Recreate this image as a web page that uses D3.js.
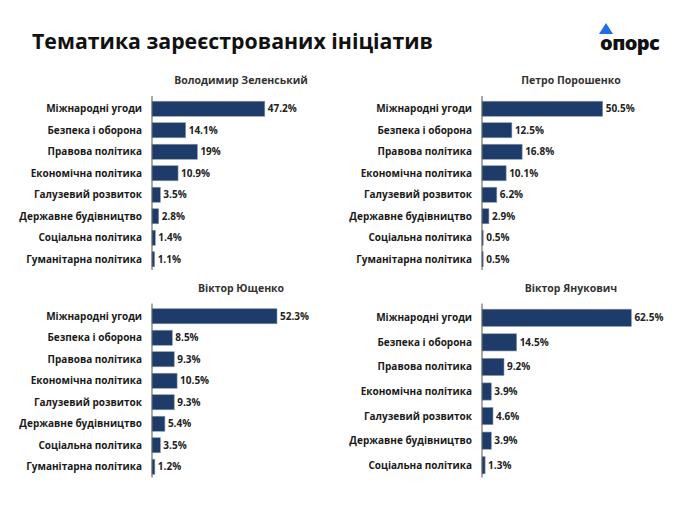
<!DOCTYPE html>
<html><head><meta charset="utf-8">
<script src="https://cdn.jsdelivr.net/npm/d3@7"></script>
<style>
body{margin:0;background:#fff;}
text{font-family:"Open Sans","DejaVu Sans",sans-serif;}
</style></head>
<body><svg id="c" width="690" height="506"></svg>
<script>
const categories8 = ["Міжнародні угоди","Безпека і оборона","Правова політика","Економічна політика","Галузевий розвиток","Державне будівництво","Соціальна політика","Гуманітарна політика"];
const categories7 = categories8.slice(0,7);
const zelenskyValues = [47.2,14.1,19,10.9,3.5,2.8,1.4,1.1];
const poroshenkoValues = [50.5,12.5,16.8,10.1,6.2,2.9,0.5,0.5];
const yushchenkoValues = [52.3,8.5,9.3,10.5,9.3,5.4,3.5,1.2];
const yanukovychValues = [62.5,14.5,9.2,3.9,4.6,3.9,1.3];
const panelTitles = ["Володимир Зеленський","Петро Порошенко","Віктор Ющенко","Віктор Янукович"];
const chartTitle = "Тематика зареєстрованих ініціатив";

const svg = d3.select("#c");
svg.append("text").attr("x",32).attr("y",49).attr("font-size",21.3).attr("font-weight",700)
  .attr("fill","#111").text(chartTitle);

// logo
const logo = svg.append("g");
logo.append("path").attr("d","M606,23 L613,34 L599,34 Z").attr("fill","#1e6fe6");
logo.append("text").attr("x",600).attr("y",50).attr("font-size",20).attr("font-weight",800)
  .attr("fill","#111").attr("letter-spacing",-0.6).text("опорс");

const x = d3.scaleLinear().domain([0,70]).range([0,167.3]);

const panels = [
  {title:panelTitles[0], cats:categories8, vals:zelenskyValues, ax:152, y0:98, y1:270, ty:84},
  {title:panelTitles[1], cats:categories8, vals:poroshenkoValues, ax:482, y0:98, y1:270, ty:84},
  {title:panelTitles[2], cats:categories8, vals:yushchenkoValues, ax:152, y0:305.5, y1:477.5, ty:292},
  {title:panelTitles[3], cats:categories7, vals:yanukovychValues, ax:482, y0:305.5, y1:477.5, ty:292}
];

panels.forEach(p=>{
  const g = svg.append("g").attr("transform",`translate(${p.ax},0)`);
  const y = d3.scaleBand().domain(p.cats).range([p.y0,p.y1]).padding(0.3).paddingOuter(0.15);
  const data = p.cats.map((c,i)=>({c, v:p.vals[i]}));
  g.append("text").attr("x",89).attr("y",p.ty).attr("text-anchor","middle")
    .attr("font-size",10.5).attr("font-weight",700).attr("fill","#333").text(p.title);
  g.selectAll("rect").data(data).join("rect")
    .attr("x",0).attr("y",d=>y(d.c)).attr("width",d=>x(d.v)).attr("height",y.bandwidth())
    .attr("fill","#1d3c6a").attr("stroke","#8a97aa").attr("stroke-width",0.6);
  g.selectAll(".cl").data(data).join("text").attr("class","cl")
    .attr("x",-10).attr("y",d=>y(d.c)+y.bandwidth()/2).attr("dy","0.35em")
    .attr("text-anchor","end").attr("font-size",10).attr("font-weight",700).attr("fill","#1a1a1a")
    .text(d=>d.c);
  g.selectAll(".vl").data(data).join("text").attr("class","vl")
    .attr("x",d=>x(d.v)+3).attr("y",d=>y(d.c)+y.bandwidth()/2).attr("dy","0.35em")
    .attr("font-size",10).attr("font-weight",700).attr("fill","#222")
    .text(d=>d.v+"%");
  g.append("line").attr("x1",0).attr("x2",0).attr("y1",p.y0-2).attr("y2",p.y1)
    .attr("stroke","#555").attr("stroke-width",1);
});
</script></body></html>
